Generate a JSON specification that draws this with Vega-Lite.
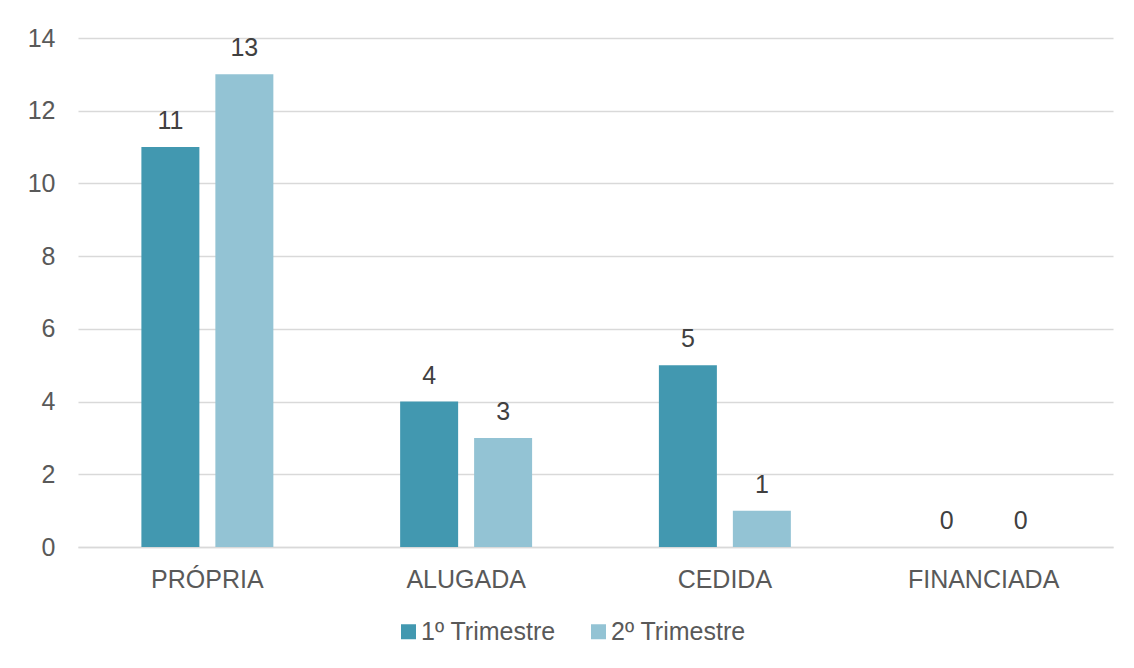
{
  "$schema": "https://vega.github.io/schema/vega-lite/v6.json",
  "width": 1035,
  "height": 509,
  "autosize": {"type": "none"},
  "padding": {"left": 78, "top": 38, "right": 21, "bottom": 121},
  "background": "#ffffff",
  "config": {
    "view": {"stroke": null},
    "font": "Liberation Sans",
    "axis": {"labelFont": "Liberation Sans", "labelColor": "#595959", "labelFontSize": 25, "ticks": false, "title": null},
    "legend": {"labelFont": "Liberation Sans", "labelColor": "#595959", "labelFontSize": 25}
  },
  "data": {
    "values": [
      {"cat": "PRÓPRIA", "serie": "1º Trimestre", "v": 11},
      {"cat": "PRÓPRIA", "serie": "2º Trimestre", "v": 13},
      {"cat": "ALUGADA", "serie": "1º Trimestre", "v": 4},
      {"cat": "ALUGADA", "serie": "2º Trimestre", "v": 3},
      {"cat": "CEDIDA", "serie": "1º Trimestre", "v": 5},
      {"cat": "CEDIDA", "serie": "2º Trimestre", "v": 1},
      {"cat": "FINANCIADA", "serie": "1º Trimestre", "v": 0},
      {"cat": "FINANCIADA", "serie": "2º Trimestre", "v": 0}
    ]
  },
  "encoding": {
    "x": {
      "field": "cat", "type": "nominal", "sort": null,
      "scale": {"paddingInner": 0.49, "paddingOuter": 0.245},
      "axis": {"labelAngle": 0, "labelPadding": 20, "domainColor": "#d9d9d9", "domainWidth": 1.5, "grid": false}
    },
    "xOffset": {"field": "serie", "type": "nominal", "scale": {"paddingInner": 0.216, "paddingOuter": 0}},
    "y": {
      "field": "v", "type": "quantitative",
      "scale": {"domain": [0, 14], "nice": false},
      "axis": {"values": [0, 2, 4, 6, 8, 10, 12, 14], "domain": false, "gridColor": "#d9d9d9", "gridWidth": 1.5, "labelPadding": 23}
    }
  },
  "layer": [
    {
      "mark": {"type": "bar"},
      "encoding": {
        "color": {
          "field": "serie", "type": "nominal",
          "scale": {"domain": ["1º Trimestre", "2º Trimestre"], "range": ["#4298b0", "#93c3d4"]},
          "legend": {
            "title": null, "orient": "none", "direction": "horizontal",
            "legendX": 318, "legendY": 581,
            "symbolType": "square", "symbolSize": 225, "symbolStrokeWidth": 0, "symbolOpacity": 1,
            "columnPadding": 30, "labelOffset": 0
          }
        }
      }
    },
    {
      "mark": {"type": "text", "baseline": "alphabetic", "dy": -18, "fontSize": 25, "color": "#404040"},
      "encoding": {"text": {"field": "v", "type": "quantitative"}}
    }
  ]
}
